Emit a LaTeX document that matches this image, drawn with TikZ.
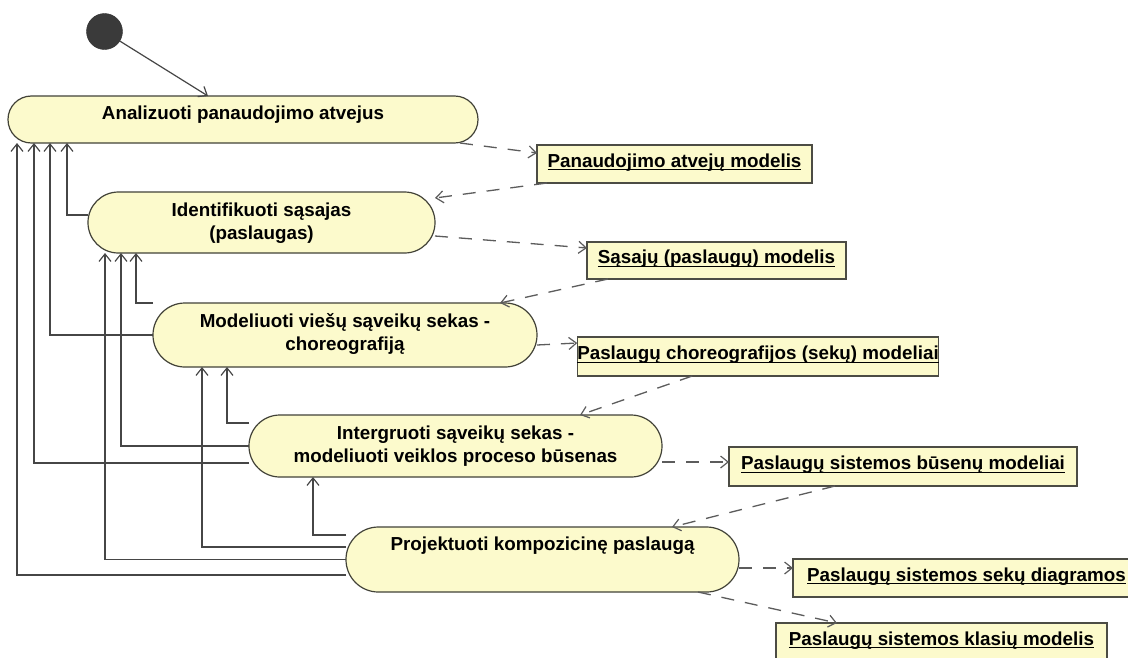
\documentclass[tikz,border=0pt]{standalone}
\usepackage{fontspec}
\setmainfont{Liberation Sans}
\usetikzlibrary{arrows.meta}
\definecolor{actfill}{RGB}{252,250,204}
\definecolor{actline}{RGB}{66,66,56}
\definecolor{flowline}{RGB}{70,70,70}
\definecolor{dashline}{RGB}{92,92,92}
\definecolor{objline}{RGB}{76,76,68}
\definecolor{initfill}{RGB}{58,58,58}
% underlined object name, line crossing the descenders
\newcommand\ulbox[1]{\setbox0=\hbox{#1}\rlap{\rule[-3.3pt]{\wd0}{1.3pt}}\box0}

\begin{document}
\begin{tikzpicture}[x=1pt,y=-1pt,
  every node/.style={inner sep=0pt, outer sep=0pt},
  activity/.style={draw=actline, line width=1.2pt, fill=actfill, rectangle},
  acttext/.style={font=\bfseries\fontsize{18.8}{23}\selectfont, anchor=base},
  object/.style={draw=objline, line width=1.4pt, fill=actfill,
    font=\bfseries\fontsize{18.8}{23}\selectfont, text height=12pt, text depth=6pt},
  flow/.style={draw=flowline, line width=1.2pt,
    -{Straight Barb[length=7.5pt,width=12pt,line width=1.2pt]}},
  objflow/.style={draw=dashline, line width=1.3pt, dash pattern=on 13pt off 11pt,
    -{Straight Barb[length=7.5pt,width=12pt,line width=1.2pt]}},
]
\fill[white] (0,0) rectangle (1128,657);
\useasboundingbox (0,0) rectangle (1128,657);

% initial state
\node[circle, fill=initfill, draw=initfill!80!black, minimum size=36pt] (init) at (104.5,31.5) {};

% activities
\node[activity, minimum width=470pt, minimum height=47pt, rounded corners=23.4pt] (a1) at (243,119.5) {};
\node[activity, minimum width=347pt, minimum height=61pt, rounded corners=30.4pt] (a2) at (261.5,222.5) {};
\node[activity, minimum width=384pt, minimum height=64pt, rounded corners=31.9pt] (a3) at (345,335) {};
\node[activity, minimum width=413pt, minimum height=62pt, rounded corners=30.9pt] (a4) at (455.5,446) {};
\node[activity, minimum width=393pt, minimum height=65pt, rounded corners=32.4pt] (a5) at (542.5,559.5) {};

\node[acttext] (a1t) at ([yshift=-23.5pt]a1.north) {Analizuoti panaudojimo atvejus};
\node[acttext] (a2t) at ([yshift=-24pt]a2.north)
  {\begin{tabular}[t]{@{}c@{}}Identifikuoti sąsajas\\(paslaugas)\end{tabular}};
\node[acttext] (a3t) at ([yshift=-24pt]a3.north)
  {\begin{tabular}[t]{@{}c@{}}Modeliuoti viešų sąveikų sekas -\\choreografiją\end{tabular}};
\node[acttext] (a4t) at ([yshift=-24pt]a4.north)
  {\begin{tabular}[t]{@{}c@{}}Intergruoti sąveikų sekas -\\modeliuoti veiklos proceso būsenas\end{tabular}};
\node[acttext] (a5t) at ([yshift=-23pt]a5.north) {Projektuoti kompozicinę paslaugą};

% object nodes
\node[object, minimum width=275pt, minimum height=38pt] (o1) at (674.5,164) {\ulbox{Panaudojimo atvejų modelis}};
\node[object, minimum width=259pt, minimum height=37pt] (o2) at (716.5,260.5) {\ulbox{Sąsajų (paslaugų) modelis}};
\node[object, minimum width=280pt, minimum height=39pt] (o3) at (758,356.5) {\ulbox{Paslaugų choreografijos (sekų) modeliai}};
\node[object, minimum width=348pt, minimum height=39pt] (o4) at (903,466.5) {\ulbox{Paslaugų sistemos būsenų modeliai}};
\node[object, minimum width=347pt, minimum height=38pt] (o5) at (966.5,578) {\ulbox{Paslaugų sistemos sekų diagramos}};
\node[object, minimum width=331pt, minimum height=38pt] (o6) at (941.5,642) {\ulbox{Paslaugų sistemos klasių modelis}};

% control flow
\draw[flow] (init) -- ([xshift=200pt]a1.north west);
\draw[flow] ([yshift=7.5pt]a2.west) -| ([xshift=59pt]a1.south west);
\draw[flow] (a3.west) -| ([xshift=42pt]a1.south west);
\draw[flow] (a3.north west) -| ([xshift=48pt]a2.south west);
\draw[flow] ([yshift=-17pt]a4.west) -| ([xshift=26pt]a1.south west);
\draw[flow] (a4.west) -| ([xshift=33pt]a2.south west);
\draw[flow] ([yshift=23pt]a4.west) -| ([xshift=74pt]a3.south west);
\draw[flow] ([yshift=-15.5pt]a5.west) -| ([xshift=9pt]a1.south west);
\draw[flow] (a5.west) -| ([xshift=17pt]a2.south west);
\draw[flow] ([yshift=12.5pt]a5.west) -| ([xshift=49pt]a3.south west);
\draw[flow] ([yshift=24.5pt]a5.west) -| ([xshift=64pt]a4.south west);

% object flow
\draw[objflow] ([xshift=-18pt]a1.south east) -- ([yshift=-8pt]o1.north west);
\draw[objflow] ([xshift=10pt]o1.south west) -- ([yshift=-6pt]a2.north east);
\draw[objflow] ([yshift=-13.5pt]a2.east) -- ([yshift=-6pt]o2.north west);
\draw[objflow] ([xshift=21pt]o2.south west) -- ([xshift=-37pt]a3.north east);
\draw[objflow] ([yshift=-10pt]a3.east) -- ([yshift=-6pt]o3.north west);
\draw[objflow] ([xshift=115pt]o3.south west) -- ([xshift=-82pt]a4.north east);
\draw[objflow] ([yshift=-16pt]a4.east) -- ([yshift=4.5pt]o4.west);
\draw[objflow] ([xshift=106pt]o4.south west) -- ([xshift=-67pt]a5.north east);
\draw[objflow] ([yshift=-8.5pt]a5.east) -- ([yshift=10pt]o5.west);
\draw[objflow] ([xshift=-41pt]a5.south east) -- ([xshift=61pt]o6.north west);
\end{tikzpicture}
\end{document}
